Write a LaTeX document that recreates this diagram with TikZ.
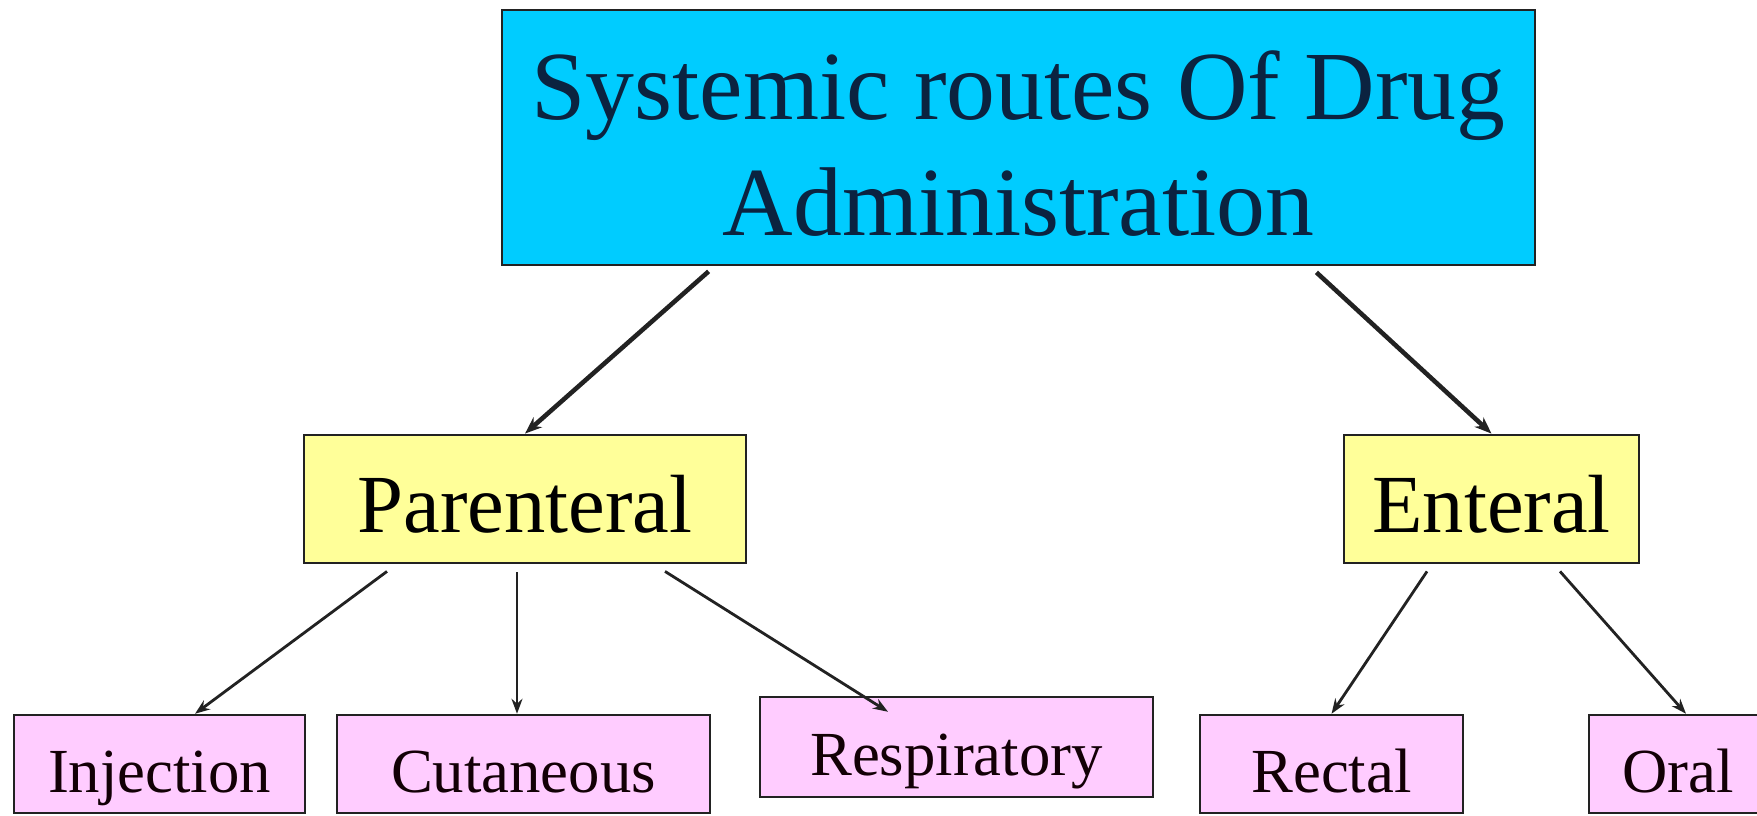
\documentclass[tikz,border=0pt]{standalone}
\usepackage{fontspec}
\setmainfont{Liberation Serif}
\usetikzlibrary{arrows.meta}
\definecolor{skyfill}{HTML}{00CCFF}
\definecolor{lemonfill}{HTML}{FFFF99}
\definecolor{lilacfill}{HTML}{FFCCFF}
\definecolor{boxline}{HTML}{222222}
\definecolor{navytext}{HTML}{0B2340}
\begin{document}
\begin{tikzpicture}[x=1cm,y=1cm,
  topbox/.style={draw=boxline, line width=1.6pt, fill=skyfill, text=navytext, align=center,
    minimum width=20.66cm, minimum height=5.10cm, inner sep=0pt,
    font=\fontsize{55.6}{66.3}\selectfont},
  midbox/.style={draw=boxline, line width=1.6pt, fill=lemonfill, text=black,
    minimum height=2.56cm, inner sep=0pt, text height=1.32cm, text depth=0cm,
    font=\fontsize{47}{56}\selectfont},
  leafbox/.style={draw=boxline, line width=1.4pt, fill=lilacfill, text=black!90!purple,
    minimum height=1.96cm, inner sep=0pt, text height=1.12cm, text depth=0cm,
    font=\fontsize{35.7}{43}\selectfont},
  bigarrow/.style={-{Stealth[length=0.34cm,width=0.26cm]}, line width=2.6pt, draw=boxline},
  smallarrow/.style={-{Stealth[length=0.3cm,width=0.22cm]}, line width=1.6pt, draw=boxline}]
\useasboundingbox (0,0) rectangle (35.14,16.30);
\clip (0,0) rectangle (35.14,16.30);
% top level
\node[topbox] (sys) at (20.37,13.55) {\rule{0pt}{46pt}Systemic routes Of Drug\\Administration};
% second level
\node[midbox, minimum width=8.84cm] (par) at (10.50,6.32) {Parenteral};
\node[midbox, minimum width=5.90cm] (ent) at (29.83,6.32) {Enteral};
% leaves
\node[leafbox, minimum width=5.82cm] (inj) at (3.19,1.02) {Injection};
\node[leafbox, minimum width=7.46cm] (cut) at (10.47,1.02) {Cutaneous};
\node[leafbox, minimum width=7.86cm, minimum height=2.0cm] (resp) at (19.13,1.36) {Respiratory};
\node[leafbox, minimum width=5.26cm] (rect) at (26.63,1.02) {Rectal};
\node[leafbox, minimum width=3.56cm] (oral) at (33.56,1.02) {Oral};
% connectors
\draw[bigarrow] ([xshift=4.16cm,yshift=-0.1cm]sys.south west) -- (par.north);
\draw[bigarrow] ([xshift=-4.4cm,yshift=-0.12cm]sys.south east) -- (ent.north);
\draw[smallarrow] ([xshift=-2.76cm,yshift=-0.14cm]par.south) -- ([xshift=0.71cm]inj.north);
\draw[smallarrow] ([xshift=-0.16cm,yshift=-0.16cm]par.south) -- ([xshift=-0.13cm]cut.north);
\draw[smallarrow] ([xshift=2.80cm,yshift=-0.14cm]par.south) -- ([xshift=-1.37cm,yshift=-0.32cm]resp.north);
\draw[smallarrow] ([xshift=-1.29cm,yshift=-0.14cm]ent.south) -- (rect.north);
\draw[smallarrow] ([xshift=1.37cm,yshift=-0.14cm]ent.south) -- ([xshift=0.16cm]oral.north);
\end{tikzpicture}
\end{document}
